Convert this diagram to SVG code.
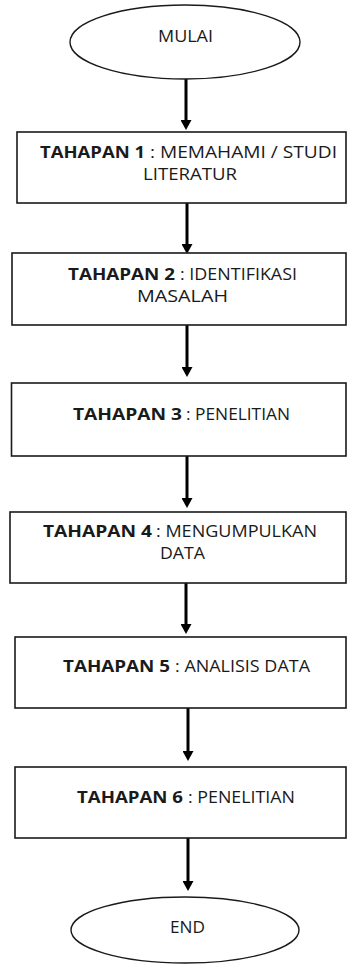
<svg xmlns="http://www.w3.org/2000/svg" width="347" height="964" viewBox="0 0 347 964">
<style>
.box{fill:#fff;stroke:#1a1a1a;stroke-width:1.6}
.term{fill:#fff;stroke:#1a1a1a;stroke-width:1.4}
.t{font-family:"Open Sans","Liberation Sans",sans-serif;font-size:16.5px;fill:#1a1a1a}
.b{font-weight:bold}
.c{stroke:#000;stroke-width:3;fill:none;marker-end:url(#ah)}
</style>
<defs>
<marker id="ah" markerUnits="userSpaceOnUse" markerWidth="10" markerHeight="11" refX="0" refY="5.5" orient="auto">
<path d="M0,0 L10,5.5 L0,11 z" fill="#000"/>
</marker>
</defs>
<rect width="347" height="964" fill="#fff"/>
<g id="connectors">
<line class="c" x1="186" y1="79" x2="186" y2="120"/>
<line class="c" x1="187" y1="203" x2="187" y2="244"/>
<line class="c" x1="187" y1="325" x2="187" y2="367"/>
<line class="c" x1="187" y1="456" x2="187" y2="498"/>
<line class="c" x1="186" y1="583" x2="186" y2="624"/>
<line class="c" x1="188" y1="708" x2="188" y2="751"/>
<line class="c" x1="188" y1="838" x2="188" y2="881"/>
</g>
<g id="mulai">
<ellipse class="term" cx="185" cy="42" rx="115" ry="37"/>
<text class="t" x="158" y="42" textLength="55" lengthAdjust="spacingAndGlyphs">MULAI</text>
</g>
<g id="tahap1">
<rect class="box" x="17" y="132" width="329" height="71"/>
<text class="t b" x="40" y="158" textLength="105" lengthAdjust="spacingAndGlyphs">TAHAPAN 1</text>
<text class="t" x="150" y="158" textLength="187" lengthAdjust="spacingAndGlyphs">: MEMAHAMI / STUDI</text>
<text class="t" x="143" y="180" textLength="94" lengthAdjust="spacingAndGlyphs">LITERATUR</text>
</g>
<g id="tahap2">
<rect class="box" x="12" y="253" width="334" height="72"/>
<text class="t b" x="68" y="280" textLength="107" lengthAdjust="spacingAndGlyphs">TAHAPAN 2</text>
<text class="t" x="180" y="280" textLength="117" lengthAdjust="spacingAndGlyphs">: IDENTIFIKASI</text>
<text class="t" x="137" y="302" textLength="91" lengthAdjust="spacingAndGlyphs">MASALAH</text>
</g>
<g id="tahap3">
<rect class="box" x="11.5" y="383" width="334.5" height="73"/>
<text class="t b" x="73" y="420" textLength="109" lengthAdjust="spacingAndGlyphs">TAHAPAN 3</text>
<text class="t" x="186" y="420" textLength="104" lengthAdjust="spacingAndGlyphs">: PENELITIAN</text>
</g>
<g id="tahap4">
<rect class="box" x="10" y="512" width="336" height="71"/>
<text class="t b" x="43" y="537" textLength="109" lengthAdjust="spacingAndGlyphs">TAHAPAN 4</text>
<text class="t" x="156" y="537" textLength="161" lengthAdjust="spacingAndGlyphs">: MENGUMPULKAN</text>
<text class="t" x="160" y="559" textLength="45" lengthAdjust="spacingAndGlyphs">DATA</text>
</g>
<g id="tahap5">
<rect class="box" x="15" y="637" width="331" height="71"/>
<text class="t b" x="63" y="672" textLength="107" lengthAdjust="spacingAndGlyphs">TAHAPAN 5</text>
<text class="t" x="175" y="672" textLength="135" lengthAdjust="spacingAndGlyphs">: ANALISIS DATA</text>
</g>
<g id="tahap6">
<rect class="box" x="15" y="767" width="331" height="71"/>
<text class="t b" x="77" y="803" textLength="106" lengthAdjust="spacingAndGlyphs">TAHAPAN 6</text>
<text class="t" x="188" y="803" textLength="107" lengthAdjust="spacingAndGlyphs">: PENELITIAN</text>
</g>
<g id="end">
<ellipse class="term" cx="185" cy="930" rx="114" ry="33"/>
<text class="t" x="170" y="933" textLength="35" lengthAdjust="spacingAndGlyphs">END</text>
</g>
</svg>
